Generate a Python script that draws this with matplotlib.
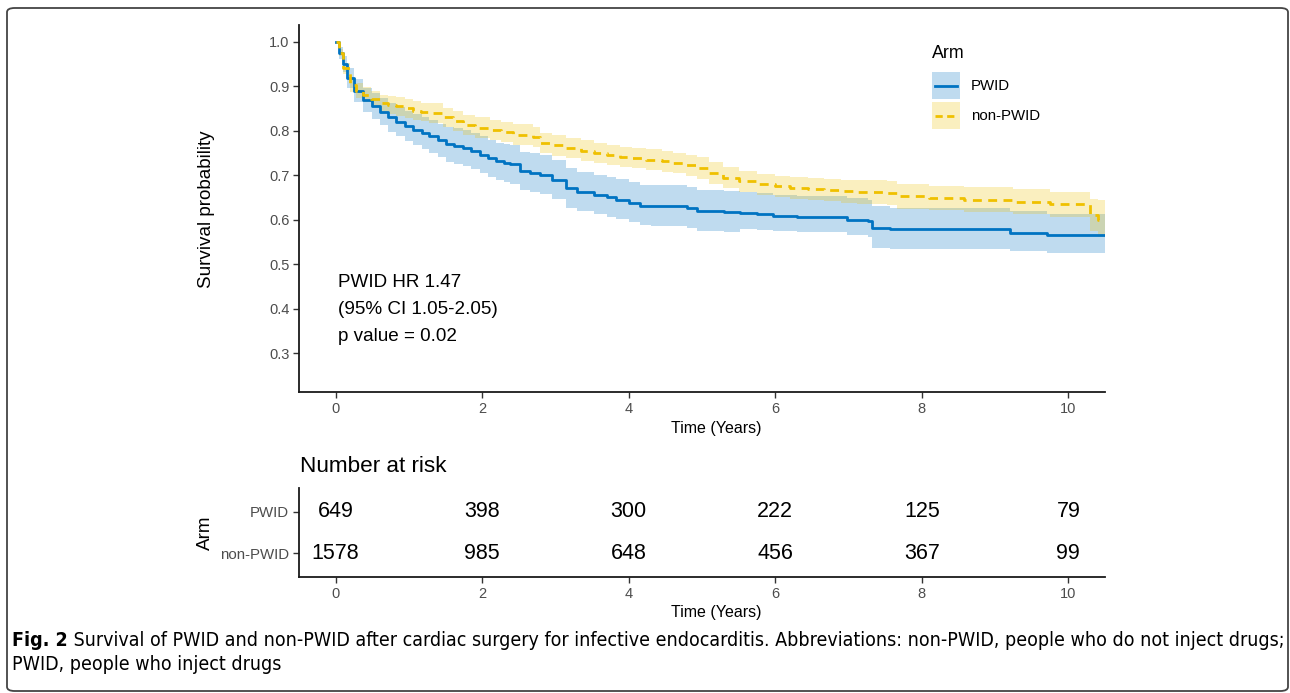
import matplotlib
matplotlib.use("Agg")
import matplotlib.pyplot as plt
from matplotlib import font_manager
from matplotlib.patches import FancyBboxPatch, Rectangle
from matplotlib.lines import Line2D

plt.rcParams['font.family'] = ['Liberation Sans', 'DejaVu Sans']

# ---------------- data ----------------
pwid_t = [0, 0.05, 0.1, 0.15, 0.25, 0.37, 0.5, 0.6, 0.72, 0.83, 0.95, 1.06, 1.18, 1.28,
          1.4, 1.51, 1.62, 1.74, 1.85, 1.97, 2.08, 2.19, 2.3, 2.38, 2.51, 2.65, 2.79,
          2.95, 3.15, 3.3, 3.52, 3.7, 3.83, 4.0, 4.15, 4.3, 4.52, 4.79, 4.93, 5.11,
          5.3, 5.52, 5.75, 5.97, 6.3, 6.66, 6.98, 7.27, 7.32, 7.57, 8.5, 9.21, 9.71, 10.5]
pwid_s = [1.0, 0.975, 0.95, 0.918, 0.89, 0.87, 0.855, 0.843, 0.83, 0.82, 0.81, 0.802, 0.795,
          0.787, 0.778, 0.769, 0.765, 0.761, 0.754, 0.746, 0.738, 0.731, 0.727, 0.724,
          0.709, 0.705, 0.701, 0.69, 0.671, 0.663, 0.656, 0.65, 0.645, 0.638, 0.631,
          0.63, 0.63, 0.626, 0.619, 0.619, 0.617, 0.615, 0.612, 0.608, 0.606, 0.606,
          0.60, 0.596, 0.581, 0.578, 0.578, 0.571, 0.566, 0.566]
pwid_lo = [1.0, 0.962, 0.932, 0.896, 0.865, 0.843, 0.826, 0.812, 0.798, 0.787, 0.776, 0.767,
           0.759, 0.75, 0.74, 0.73, 0.725, 0.72, 0.713, 0.705, 0.696, 0.689, 0.685, 0.681,
           0.666, 0.661, 0.657, 0.646, 0.627, 0.619, 0.612, 0.606, 0.601, 0.594, 0.587,
           0.586, 0.586, 0.582, 0.575, 0.575, 0.573, 0.58, 0.577, 0.574, 0.572, 0.572,
           0.566, 0.562, 0.537, 0.535, 0.535, 0.53, 0.524, 0.524]
pwid_hi = [1.0, 0.988, 0.968, 0.94, 0.915, 0.897, 0.884, 0.874, 0.862, 0.853, 0.844, 0.837,
           0.831, 0.824, 0.816, 0.808, 0.805, 0.802, 0.795, 0.787, 0.78, 0.773, 0.769, 0.767,
           0.752, 0.749, 0.745, 0.734, 0.716, 0.708, 0.701, 0.696, 0.691, 0.684, 0.677,
           0.677, 0.677, 0.673, 0.666, 0.666, 0.664, 0.662, 0.66, 0.656, 0.654, 0.654,
           0.648, 0.645, 0.63, 0.627, 0.627, 0.62, 0.612, 0.612]

npwid_t = [0, 0.05, 0.1, 0.19, 0.28, 0.37, 0.48, 0.6, 0.72, 0.83, 0.95, 1.06, 1.17, 1.28,
           1.47, 1.6, 1.74, 1.9, 2.1, 2.25, 2.42, 2.7, 2.79, 2.95, 3.15, 3.35, 3.52, 3.7,
           3.88, 4.05, 4.24, 4.45, 4.61, 4.78, 4.93, 5.1, 5.29, 5.5, 5.75, 6.0, 6.2, 6.45,
           6.66, 6.9, 7.11, 7.52, 7.66, 8.1, 8.57, 9.25, 9.75, 10.26, 10.3, 10.4, 10.5]
npwid_s = [1.0, 0.975, 0.94, 0.903, 0.89, 0.881, 0.872, 0.862, 0.858, 0.855, 0.85, 0.845,
           0.842, 0.84, 0.83, 0.822, 0.813, 0.807, 0.802, 0.797, 0.791, 0.786, 0.772, 0.767,
           0.761, 0.755, 0.75, 0.745, 0.741, 0.738, 0.735, 0.731, 0.727, 0.722, 0.716,
           0.705, 0.694, 0.686, 0.679, 0.675, 0.671, 0.668, 0.666, 0.664, 0.662, 0.66,
           0.652, 0.648, 0.645, 0.64, 0.635, 0.635, 0.611, 0.60, 0.60]
npwid_lo = [1.0, 0.967, 0.928, 0.888, 0.874, 0.864, 0.854, 0.843, 0.838, 0.834, 0.829, 0.824,
            0.821, 0.818, 0.808, 0.8, 0.791, 0.784, 0.779, 0.774, 0.768, 0.763, 0.749, 0.744,
            0.738, 0.732, 0.727, 0.722, 0.718, 0.715, 0.712, 0.708, 0.704, 0.698, 0.692,
            0.681, 0.67, 0.662, 0.655, 0.651, 0.646, 0.643, 0.641, 0.638, 0.636, 0.633,
            0.625, 0.621, 0.617, 0.612, 0.606, 0.606, 0.575, 0.56, 0.56]
npwid_hi = [1.0, 0.983, 0.952, 0.918, 0.906, 0.898, 0.89, 0.881, 0.878, 0.876, 0.871, 0.866,
            0.863, 0.862, 0.852, 0.844, 0.835, 0.83, 0.825, 0.82, 0.814, 0.809, 0.795, 0.79,
            0.784, 0.778, 0.773, 0.768, 0.764, 0.761, 0.758, 0.754, 0.75, 0.746, 0.74,
            0.729, 0.718, 0.71, 0.703, 0.699, 0.696, 0.693, 0.691, 0.69, 0.688, 0.687,
            0.679, 0.675, 0.673, 0.668, 0.663, 0.663, 0.647, 0.645, 0.645]

arms = ['PWID', 'non-PWID']
risk_times = [0, 2, 4, 6, 8, 10]
risk_pwid = [649, 398, 300, 222, 125, 79]
risk_npwid = [1578, 985, 648, 456, 367, 99]
y_ticks = [0.3, 0.4, 0.5, 0.6, 0.7, 0.8, 0.9, 1.0]
x_ticks = [0, 2, 4, 6, 8, 10]
annot = ['PWID HR 1.47', '(95% CI 1.05-2.05)', 'p value = 0.02']

# ---------------- styling ----------------
BLUE = '#0073C2'
YELLOW = '#EFC000'
TICKC = '#4D4D4D'
W, H = 1290, 693
fig = plt.figure(figsize=(W / 100, H / 100), dpi=100)


def fx(px):
    return px / W


def fy(py):
    return 1 - py / H


def style_axes(ax):
    for s in ['top', 'right']:
        ax.spines[s].set_visible(False)
    for s in ['left', 'bottom']:
        ax.spines[s].set_linewidth(1.3)
        ax.spines[s].set_color('#1a1a1a')
    ax.tick_params(axis='both', direction='out', length=4, width=1.0,
                   color='#333333', labelcolor=TICKC, labelsize=10.5, pad=3)


# main survival axes
ax = fig.add_axes([fx(299), fy(392), fx(1105 - 299), (392 - 25) / H])
ax.fill_between(pwid_t, pwid_lo, pwid_hi, step='post', color=BLUE, alpha=0.25, lw=0)
ax.fill_between(npwid_t, npwid_lo, npwid_hi, step='post', color=YELLOW, alpha=0.25, lw=0)
ax.step(pwid_t, pwid_s, where='post', color=BLUE, lw=2.0)
ax.step(npwid_t, npwid_s, where='post', color=YELLOW, lw=2.0, dashes=(3.2, 2.3))
ax.set_xlim(-0.5, 10.5)
ax.set_ylim(0.2125, 1.0375)
ax.set_xticks(x_ticks)
ax.set_yticks(y_ticks)
ax.set_yticklabels([f'{v:.1f}' for v in y_ticks])
style_axes(ax)
for i, txt in enumerate(annot):
    ax.text(0.03, 0.459 - i * 0.0605, txt, fontsize=13.6, va='center', ha='left')

fig.text(fx(206), fy(209), 'Survival probability', rotation=90, fontsize=13.6,
         ha='center', va='center')
fig.text(fx(716), fy(428), 'Time (Years)', fontsize=11.5, ha='center', va='center')

# legend (drawn by hand in pixel positions)
fig.text(fx(932), fy(54), 'Arm', fontsize=12.8, ha='left', va='center')
key_rows = [(arms[0], BLUE, 'solid', 72, 99), (arms[1], YELLOW, 'dashed', 102, 129)]
for label, col, ls, top, bot in key_rows:
    fig.add_artist(Rectangle((fx(932), fy(bot)), fx(28), (bot - top) / H,
                             transform=fig.transFigure, facecolor=col, alpha=0.25, lw=0))
    yc = (top + bot) / 2
    ln = Line2D([fx(935), fx(957)], [fy(yc), fy(yc)], transform=fig.transFigure,
                color=col, lw=2.0)
    if ls == 'dashed':
        ln.set_dashes((2.6, 1.6))
    fig.add_artist(ln)
    fig.text(fx(971), fy(yc), label, fontsize=10.8, ha='left', va='center')

# risk table
ax2 = fig.add_axes([fx(299), fy(577), fx(1105 - 299), (577 - 488) / H])
for x, n in zip(risk_times, risk_pwid):
    ax2.text(x, 2, str(n), ha='center', va='center', fontsize=15.5)
for x, n in zip(risk_times, risk_npwid):
    ax2.text(x, 1, str(n), ha='center', va='center', fontsize=15.5)
ax2.set_xlim(-0.5, 10.5)
ax2.set_ylim(0.415, 2.585)
ax2.set_xticks(x_ticks)
ax2.set_yticks([2, 1])
ax2.set_yticklabels(arms)
style_axes(ax2)
ax2.tick_params(axis='y', labelsize=10.8)
fig.text(fx(716), fy(613), 'Time (Years)', fontsize=11.5, ha='center', va='center')
fig.text(fx(205), fy(533), 'Arm', rotation=90, fontsize=13.6, ha='center', va='center')
fig.text(fx(300), fy(466), 'Number at risk', fontsize=16.2, ha='left', va='center')

# border box
box = FancyBboxPatch((fx(7), fy(691)), fx(1281), (691 - 8) / H,
                     boxstyle='round,pad=0,rounding_size=0.006',
                     transform=fig.transFigure, fill=False, ec='#444444', lw=1.3)
fig.patches.append(box)

# caption font: prefer a narrow face
cap_prop = font_manager.FontProperties(family='Liberation Sans')
cands = [font_manager.FontProperties(family='Liberation Sans Narrow'),
         font_manager.FontProperties(family='DejaVu Sans', stretch='condensed')]
for p in cands:
    try:
        path = font_manager.findfont(p, fallback_to_default=False)
        if 'Narrow' in path or 'Condensed' in path:
            cap_prop = p
            break
    except Exception:
        pass

renderer = fig.canvas.get_renderer()
line1_b = 'Fig. 2'
line1_r = (' Survival of PWID and non-PWID after cardiac surgery for infective endocarditis. '
           'Abbreviations: non-PWID, people who do not inject drugs;')
line2 = 'PWID, people who inject drugs'
fs = 12
tb = fig.text(fx(12), fy(640), line1_b, fontsize=fs, fontweight='bold',
              fontproperties=cap_prop.copy(), va='center', ha='left')
tb.set_fontweight('bold')
tr = fig.text(0, fy(640), line1_r, fontproperties=cap_prop.copy(), va='center', ha='left')
tr.set_fontsize(fs)
tb.set_fontsize(fs)
wb = tb.get_window_extent(renderer).width
wr = tr.get_window_extent(renderer).width
fs2 = fs * (1283 - 12) / (wb + wr)
tb.set_fontsize(fs2)
tr.set_fontsize(fs2)
wb = tb.get_window_extent(renderer).width
tr.set_x(fx(12 + wb))
t2 = fig.text(fx(12), fy(665), line2, fontproperties=cap_prop.copy(), va='center', ha='left')
t2.set_fontsize(fs2)

fig.savefig('out.png', dpi=100)
